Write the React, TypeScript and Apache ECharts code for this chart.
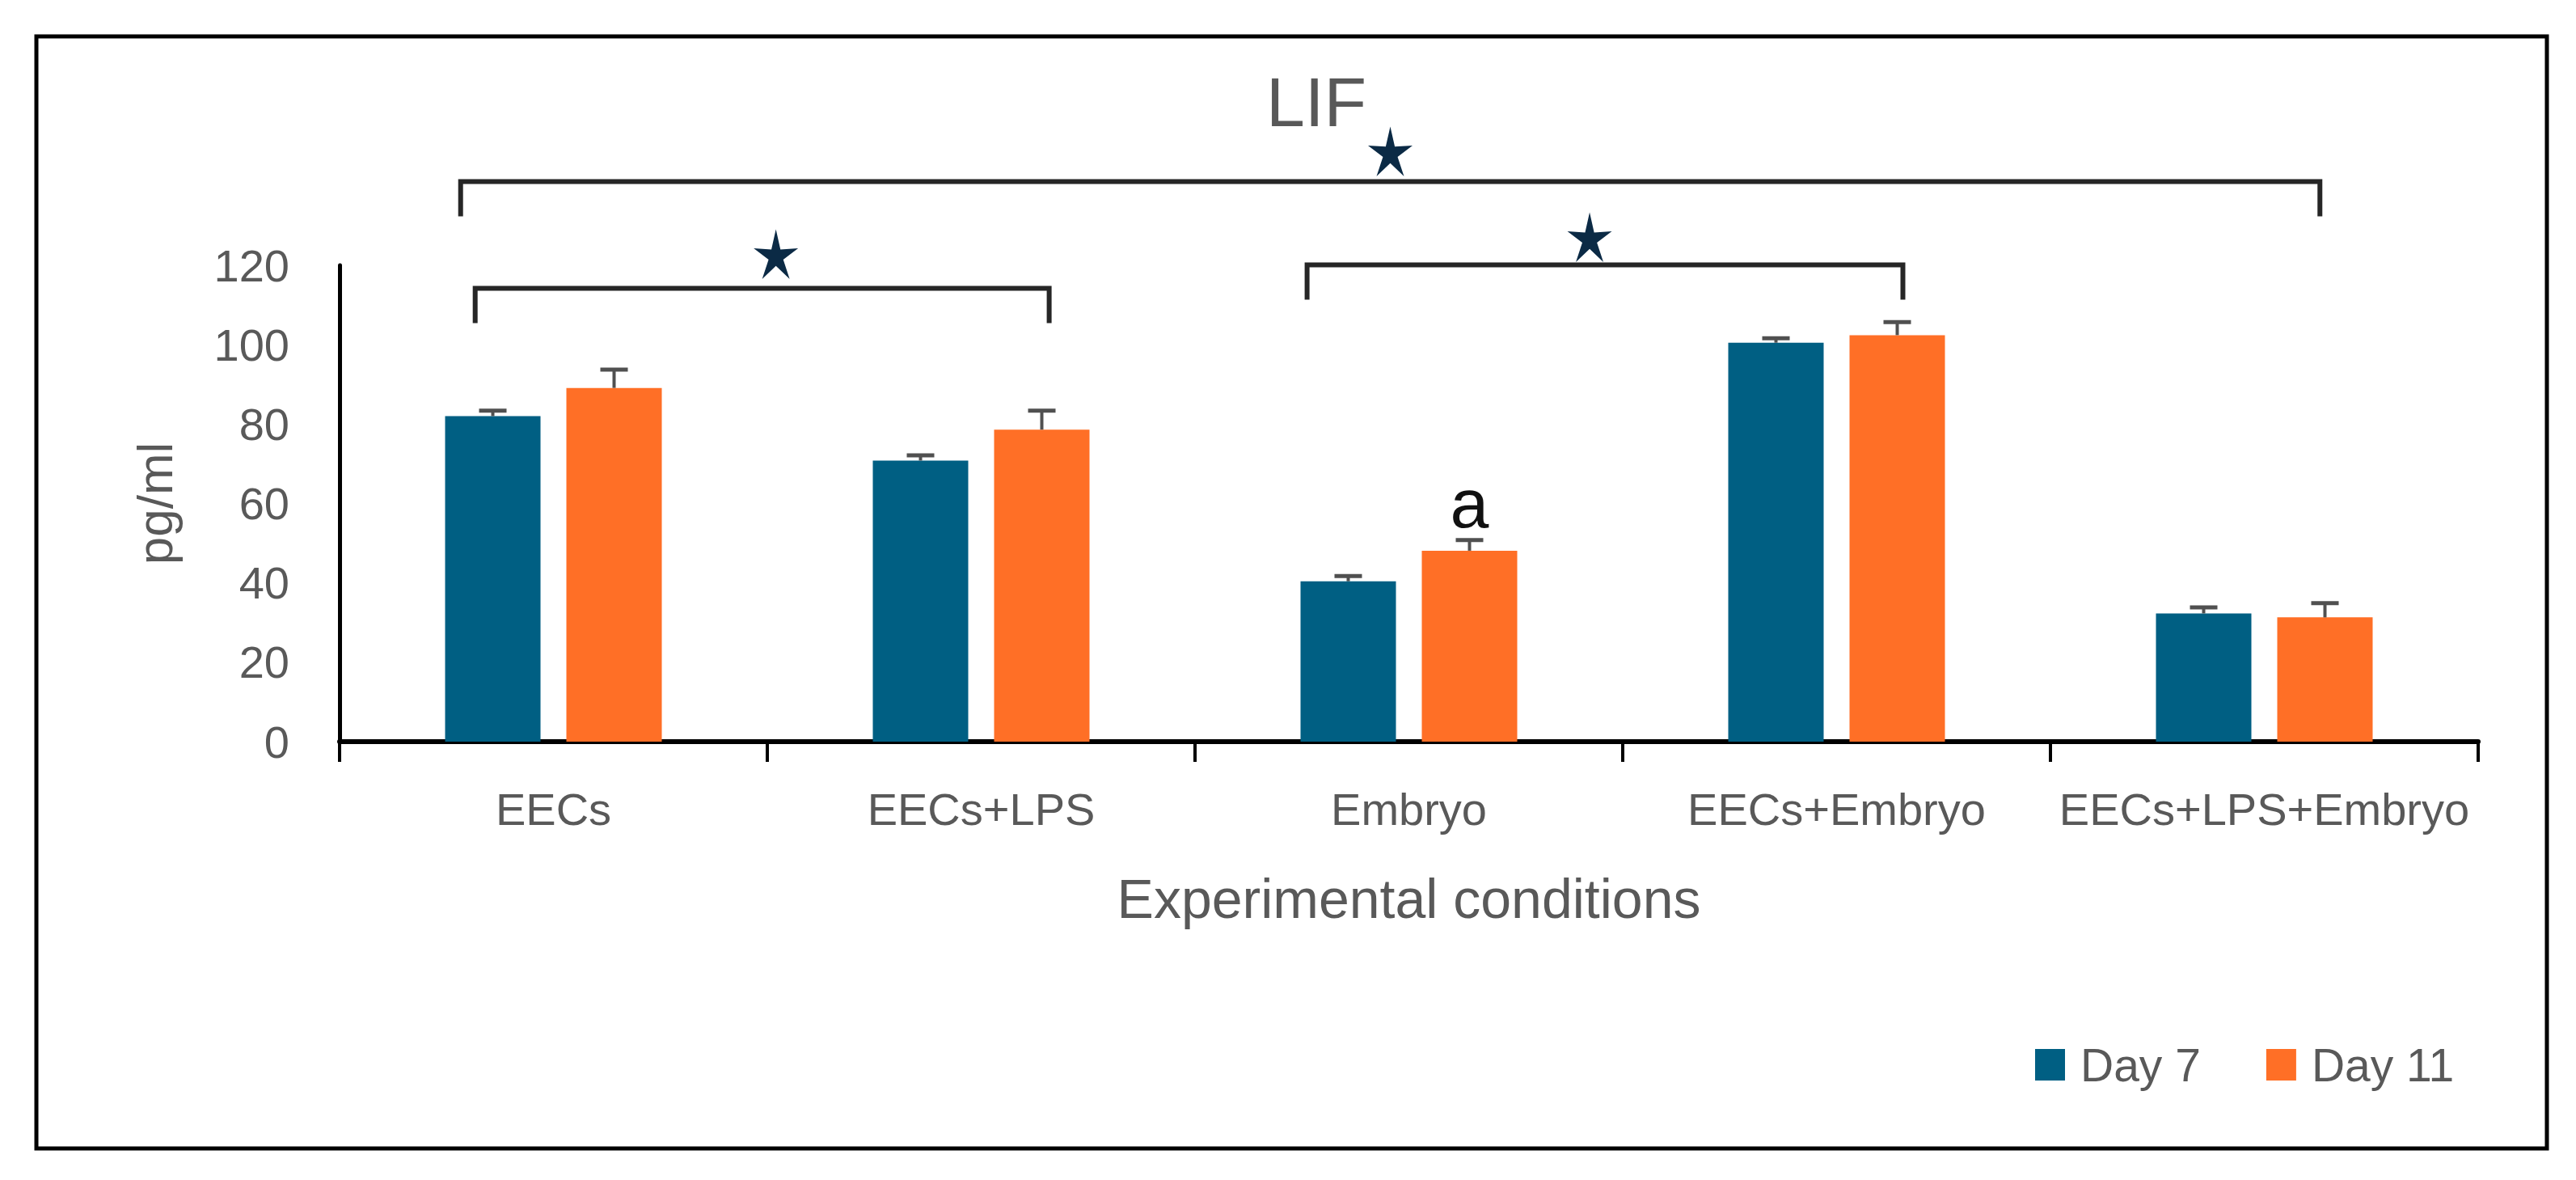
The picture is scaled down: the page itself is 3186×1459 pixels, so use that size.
import React, { useEffect, useRef } from "react";
import * as echarts from "echarts";

// ---------------- data ----------------
const categories = ["EECs", "EECs+LPS", "Embryo", "EECs+Embryo", "EECs+LPS+Embryo"];
const seriesNames = ["Day 7", "Day 11"];
const day7Values = [82.0, 70.8, 40.4, 100.5, 32.3];
const day7Errors = [1.4, 1.3, 1.3, 1.1, 1.5];
const day11Values = [89.1, 78.6, 48.1, 102.4, 31.3];
const day11Errors = [4.6, 4.8, 2.7, 3.3, 3.6];
const day11Letters = ["", "", "a", "", ""];
const yMin = 0;
const yMax = 120;
const yInterval = 20;
// significance brackets: from category, to category, level (pg/ml units)
const bracketFrom = [0, 2, 0];
const bracketTo = [1, 3, 4];
const bracketLevel = [114.2, 120.1, 141.1];
const titleText = "LIF";
const yAxisName = "pg/ml";
const xAxisName = "Experimental conditions";

// ---------------- style ----------------
const W = 3186;
const H = 1459;
const FONT = "Liberation Sans";
const TEXT_GRAY = "#595959";
const BLUE = "#005f83";
const ORANGE = "#ff6f26";
const ERR_COLOR = "#505050";
const BRACKET_COLOR = "#262626";
const STAR_COLOR = "#0b2a45";
const BAR_WIDTH = 118;
const BAR_GAP_PX = 32;
const BAR_OFFSET = (BAR_WIDTH + BAR_GAP_PX) / 2;
const BRACKET_LEFT_FRAC = [-0.183, -0.238, -0.217];
const BRACKET_RIGHT_FRAC = [0.159, 0.155, 0.13];
const BRACKET_DROP = 43;
const STAR_DX = [17, -19, 0];
const STAR_DY = [44, 36, 39];
const STAR_R = 34;

function starPoints(cx: number, cy: number, R: number, r: number, sx: number) {
  const pts: number[][] = [];
  for (let i = 0; i < 10; i++) {
    const ang = -Math.PI / 2 + (i * Math.PI) / 5;
    const rad = i % 2 === 0 ? R : r;
    pts.push([cx + sx * rad * Math.cos(ang), cy + rad * Math.sin(ang)]);
  }
  return pts;
}

function errorSeries(values: number[], errors: number[], dir: number, letters?: string[]) {
  return {
    type: "custom",
    data: values.map((v, i) => [i, v, errors[i]]),
    encode: { x: 0, y: 1 },
    z: 5,
    clip: false,
    silent: true,
    renderItem: (params: any, api: any) => {
      const i = api.value(0);
      const v = api.value(1);
      const e = api.value(2);
      const base = api.coord([i, v]);
      const top = api.coord([i, v + e]);
      const x = base[0] + dir * BAR_OFFSET;
      const children: any[] = [
        {
          type: "line",
          shape: { x1: x, y1: base[1], x2: x, y2: top[1] },
          style: { stroke: ERR_COLOR, lineWidth: 4 },
        },
        {
          type: "line",
          shape: { x1: x - 17, y1: top[1], x2: x + 17, y2: top[1] },
          style: { stroke: ERR_COLOR, lineWidth: 5 },
        },
      ];
      const letter = letters ? letters[params.dataIndex] : "";
      if (letter) {
        children.push({
          type: "text",
          x: x,
          y: top[1] - 46,
          style: {
            text: letter,
            fontSize: 86,
            fontFamily: FONT,
            fill: "#111111",
            align: "center",
            verticalAlign: "middle",
            textAlign: "center",
            textVerticalAlign: "middle",
          },
        });
      }
      return { type: "group", children };
    },
  };
}

export default function App() {
  const ref = useRef<HTMLDivElement>(null);

  useEffect(() => {
    if (!ref.current) return;
    const chart = echarts.init(ref.current, undefined, { renderer: "svg" });
    const option: any = {
      animation: false,
      backgroundColor: "#ffffff",
      textStyle: { fontFamily: FONT },
      grid: { left: 420, right: 121, top: 328, bottom: 542, containLabel: false },
      legend: {
        data: seriesNames,
        left: 2517,
        top: 1288,
        padding: 0,
        icon: "rect",
        itemWidth: 37,
        itemHeight: 39,
        itemGap: 81,
        textStyle: { fontSize: 57, color: TEXT_GRAY, fontFamily: FONT, padding: [0, 0, 0, 14] },
      },
      xAxis: {
        type: "category",
        data: categories,
        axisLine: { show: true, lineStyle: { color: "#000000", width: 6 } },
        axisTick: { show: true, length: 25, alignWithLabel: false, lineStyle: { color: "#000000", width: 4 } },
        axisLabel: { fontSize: 56, color: TEXT_GRAY, margin: 55, interval: 0, fontFamily: FONT },
        splitLine: { show: false },
        name: xAxisName,
        nameLocation: "middle",
        nameGap: 160,
        nameTextStyle: { fontSize: 68, color: TEXT_GRAY, fontFamily: FONT },
      },
      yAxis: {
        type: "value",
        min: yMin,
        max: yMax,
        interval: yInterval,
        axisLine: { show: true, lineStyle: { color: "#000000", width: 5 } },
        axisTick: { show: false },
        splitLine: { show: false },
        axisLabel: { fontSize: 56, color: TEXT_GRAY, margin: 62, fontFamily: FONT },
        name: yAxisName,
        nameLocation: "middle",
        nameRotate: 90,
        nameGap: 198,
        nameTextStyle: { fontSize: 62, color: TEXT_GRAY, fontFamily: FONT },
      },
      series: [
        {
          name: seriesNames[0],
          type: "bar",
          data: day7Values,
          barWidth: BAR_WIDTH,
          barGap: `${(BAR_GAP_PX / BAR_WIDTH) * 100}%`,
          itemStyle: { color: BLUE },
          z: 2,
        },
        {
          name: seriesNames[1],
          type: "bar",
          data: day11Values,
          barWidth: BAR_WIDTH,
          barGap: `${(BAR_GAP_PX / BAR_WIDTH) * 100}%`,
          itemStyle: { color: ORANGE },
          z: 2,
        },
        errorSeries(day7Values, day7Errors, -1),
        errorSeries(day11Values, day11Errors, 1, day11Letters),
        {
          type: "custom",
          data: bracketFrom.map((f, k) => [f, bracketLevel[k], bracketTo[k]]),
          encode: { x: 0, y: 1 },
          z: 6,
          clip: false,
          silent: true,
          renderItem: (params: any, api: any) => {
            const k = params.dataIndex;
            const band = api.size([1, 0])[0];
            const p1 = api.coord([api.value(0), api.value(1)]);
            const p2 = api.coord([api.value(2), api.value(1)]);
            const xl = p1[0] + BRACKET_LEFT_FRAC[k] * band;
            const xr = p2[0] + BRACKET_RIGHT_FRAC[k] * band;
            const y = p1[1];
            const cx = (xl + xr) / 2 + STAR_DX[k];
            const cy = y - STAR_DY[k];
            return {
              type: "group",
              children: [
                {
                  type: "polyline",
                  shape: {
                    points: [
                      [xl, y + BRACKET_DROP],
                      [xl, y],
                      [xr, y],
                      [xr, y + BRACKET_DROP],
                    ],
                  },
                  style: { stroke: BRACKET_COLOR, lineWidth: 6, fill: null },
                },
                {
                  type: "polygon",
                  shape: { points: starPoints(cx, cy + 5, STAR_R, STAR_R * 0.33, 0.85) },
                  style: { fill: STAR_COLOR },
                },
              ],
            };
          },
        },
      ],
      graphic: [
        {
          type: "rect",
          shape: { x: 45, y: 45, width: 3105, height: 1375 },
          style: { fill: "none", stroke: "#000000", lineWidth: 5 },
          silent: true,
        },
        {
          type: "text",
          x: 1628,
          y: 126,
          style: {
            text: titleText,
            fontSize: 86,
            fontFamily: FONT,
            fill: TEXT_GRAY,
            align: "center",
            verticalAlign: "middle",
            textAlign: "center",
            textVerticalAlign: "middle",
          },
          silent: true,
        },
      ],
    };
    chart.setOption(option);
    return () => {
      chart.dispose();
    };
  }, []);

  return (
    <div
      ref={ref}
      style={{ position: "absolute", left: 0, top: 0, width: W, height: H, background: "#ffffff" }}
    />
  );
}
